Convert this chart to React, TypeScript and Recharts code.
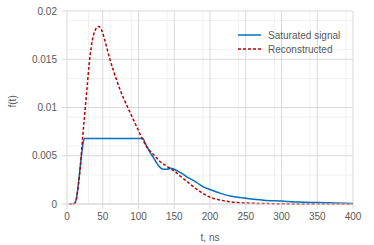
import { LineChart, Line, XAxis, YAxis, CartesianGrid } from "recharts";

const satT = [8, 11, 13, 15, 17, 19, 21, 23, 24.5, 106, 110, 115, 120, 125, 130, 135, 140, 145, 150, 155, 160, 170, 180, 190, 200, 215, 230, 250, 275, 300, 325, 350, 375, 400];
const satF = [0, 0.0001, 0.0005, 0.0015, 0.0028, 0.0042, 0.0055, 0.0065, 0.0068, 0.0068, 0.0062, 0.0055, 0.0049, 0.0043, 0.0038, 0.0036, 0.0036, 0.0037, 0.0036, 0.0034, 0.0032, 0.0027, 0.0023, 0.0018, 0.0015, 0.0011, 0.0008, 0.0006, 0.0004, 0.0003, 0.0002, 0.00015, 0.0001, 0.00005];

const recT = [3, 10, 13, 16, 19, 22, 25, 28, 31, 34, 37, 40, 44, 48, 52, 56, 60, 65, 70, 75, 80, 85, 90, 95, 100, 105, 110, 115, 120, 125, 130, 140, 150, 160, 170, 180, 190, 200, 215, 230, 250, 275, 300, 350, 400];
const recF = [0, 0, 0.0005, 0.002, 0.0042, 0.007, 0.0095, 0.012, 0.0145, 0.0163, 0.0175, 0.0181, 0.0184, 0.0181, 0.0172, 0.0161, 0.015, 0.0138, 0.0127, 0.0117, 0.0108, 0.01, 0.0092, 0.0084, 0.0076, 0.0068, 0.0061, 0.0056, 0.0052, 0.0048, 0.0044, 0.0039, 0.0034, 0.0028, 0.0022, 0.0016, 0.0011, 0.0007, 0.0004, 0.0002, 0.0001, 0.00005, 0.00002, 0, 0];

const xTicks = [0, 50, 100, 150, 200, 250, 300, 350, 400];
const yTicks = [0, 0.005, 0.01, 0.015, 0.02];
const yLabels = ["0", "0.005", "0.01", "0.015", "0.02"];
const xMinor = [10, 20, 30, 40, 60, 70, 80, 90, 110, 120, 130, 140, 160, 170, 180, 190, 210, 220, 230, 240, 260, 270, 280, 290, 310, 320, 330, 340, 360, 370, 380, 390];
const yMinor = [0.001, 0.002, 0.003, 0.004, 0.006, 0.007, 0.008, 0.009, 0.011, 0.012, 0.013, 0.014, 0.016, 0.017, 0.018, 0.019];

const satData = satT.map((t, i) => ({ t, f: satF[i] }));
const recData = recT.map((t, i) => ({ t, f: recF[i] }));

const font = "'Liberation Sans', Arial, sans-serif";
const textColor = "#595959";

const legendItems = [
  { name: "Saturated signal", color: "#0070c0", dash: undefined },
  { name: "Reconstructed", color: "#c00000", dash: "3 2" },
];

export default function App() {
  return (
    <div style={{ position: "absolute", left: 0, top: 0, width: 374, height: 245, background: "#fff" }}>
      <LineChart width={374} height={245} margin={{ top: 11, right: 21, bottom: 0, left: 0 }}>
        <CartesianGrid stroke="#f0f0f0" horizontalValues={yMinor} verticalValues={xMinor} />
        <CartesianGrid stroke="#d9d9d9" horizontalValues={yTicks} verticalValues={xTicks} />
        <XAxis
          type="number"
          dataKey="t"
          domain={[0, 400]}
          ticks={xTicks}
          height={41}
          tick={{ fontSize: 10, fill: textColor, fontFamily: font }}
          tickSize={5}
          tickMargin={4}
          axisLine={{ stroke: "#d9d9d9" }}
          tickLine={{ stroke: "#d9d9d9" }}
          label={{ value: "t, ns", position: "insideBottom", offset: 4, fontSize: 10, fill: textColor, fontFamily: font }}
        />
        <YAxis
          type="number"
          domain={[0, 0.02]}
          ticks={yTicks}
          width={67}
          tickFormatter={(v: number) => yLabels[yTicks.indexOf(v)] ?? String(v)}
          tick={{ fontSize: 10, fill: textColor, fontFamily: font }}
          tickSize={5}
          tickMargin={5}
          axisLine={false}
          tickLine={{ stroke: "#d9d9d9" }}
          label={{ value: "f(t)", angle: -90, position: "insideLeft", offset: 12, fontSize: 10, fill: textColor, fontFamily: font }}
        />
        <Line
          data={satData}
          dataKey="f"
          name="Saturated signal"
          type="monotone"
          stroke="#0070c0"
          strokeWidth={1.5}
          dot={false}
          isAnimationActive={false}
        />
        <Line
          data={recData}
          dataKey="f"
          name="Reconstructed"
          type="monotone"
          stroke="#c00000"
          strokeWidth={1.5}
          strokeDasharray="3 2"
          dot={false}
          isAnimationActive={false}
        />
      </LineChart>
      <div style={{ position: "absolute", left: 238, top: 28, fontFamily: font, fontSize: 10, color: textColor }}>
        {legendItems.map((it) => (
          <div key={it.name} style={{ display: "flex", alignItems: "center", height: 14 }}>
            <svg width={23} height={4} style={{ marginRight: 7 }}>
              <line x1={0} y1={2} x2={23} y2={2} stroke={it.color} strokeWidth={1.5} strokeDasharray={it.dash} />
            </svg>
            <span>{it.name}</span>
          </div>
        ))}
      </div>
    </div>
  );
}
